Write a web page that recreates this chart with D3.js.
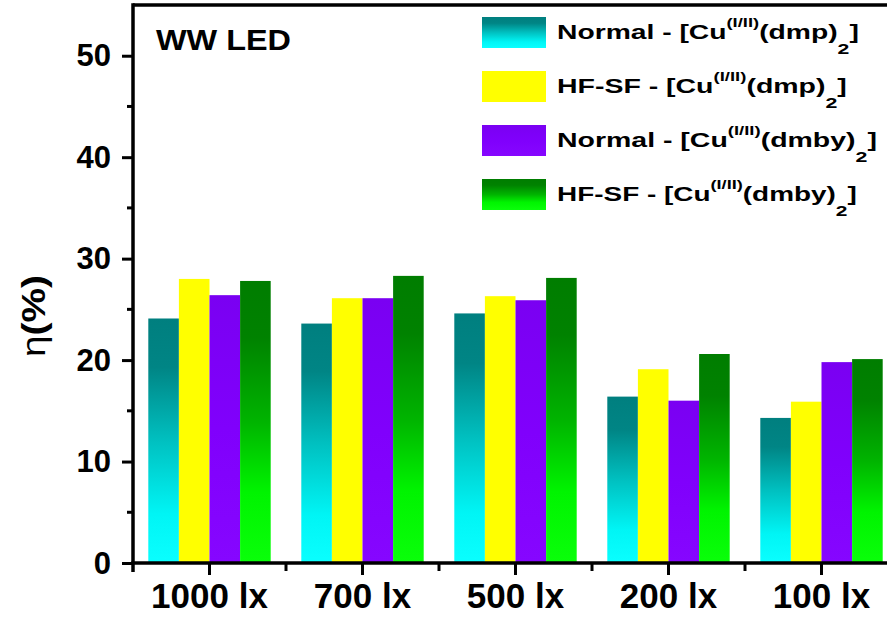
<!DOCTYPE html>
<html>
<head>
<meta charset="utf-8">
<script src="https://cdn.jsdelivr.net/npm/d3@7"></script>
<style>
  html, body { margin: 0; padding: 0; background: #fff; }
  svg { display: block; font-family: Arial, "Liberation Sans", sans-serif; }
</style>
</head>
<body>
<svg id="chart" width="887" height="617"></svg>
<script>
// Efficiency of the cells under a warm-white LED at several illuminances
const categories = ["1000 lx", "700 lx", "500 lx", "200 lx", "100 lx"];
const seriesKeys = ["normalDmp", "hfsfDmp", "normalDmby", "hfsfDmby"];
const normalDmp  = [24.1, 23.6, 24.6, 16.4, 14.3];
const hfsfDmp    = [28.0, 26.1, 26.3, 19.1, 15.9];
const normalDmby = [26.4, 26.1, 25.9, 16.0, 19.8];
const hfsfDmby   = [27.8, 28.3, 28.1, 20.6, 20.1];
const yTicks = [0, 10, 20, 30, 40, 50];
const yMinorTicks = [5, 15, 25, 35, 45];
const yMax = 55;

const seriesValues = { normalDmp, hfsfDmp, normalDmby, hfsfDmby };
const legendEntries = [
  { key: "normalDmp",  name: "Normal",  ligand: "dmp"  },
  { key: "hfsfDmp",    name: "HF-SF",   ligand: "dmp"  },
  { key: "normalDmby", name: "Normal",  ligand: "dmby" },
  { key: "hfsfDmby",   name: "HF-SF",   ligand: "dmby" }
];

const svg = d3.select("#chart");
const plotLeft = 133, plotBottom = 563, plotTop = 5, plotRight = 887;
const step = 153;

// vertical fills for each series
const defs = svg.append("defs");
const gradStops = {
  normalDmp:  [[0, "#007f7f"], [0.2, "#008585"], [0.5, "#00c0c0"], [0.8, "#00f5f5"], [1, "#0affff"]],
  hfsfDmp:    [[0, "#ffff00"], [1, "#ffff00"]],
  normalDmby: [[0, "#7a00f2"], [0.5, "#8000fc"], [1, "#8606ff"]],
  hfsfDmby:   [[0, "#007d00"], [0.2, "#008200"], [0.5, "#00b400"], [0.75, "#00f400"], [1, "#0aff0a"]]
};
seriesKeys.forEach(k => {
  const g = defs.append("linearGradient")
    .attr("id", "fill-" + k)
    .attr("x1", 0).attr("y1", 0).attr("x2", 0).attr("y2", 1);
  gradStops[k].forEach(([o, c]) => g.append("stop").attr("offset", o).attr("stop-color", c));
});

const x0 = d3.scaleBand().domain(categories)
  .range([plotLeft, plotLeft + step * categories.length]).padding(0);
const x1 = d3.scaleBand().domain(seriesKeys)
  .range([0.1 * x0.bandwidth(), 0.9 * x0.bandwidth()]).padding(0);
const y = d3.scaleLinear().domain([0, yMax]).range([plotBottom, plotTop]);

// bars
const groups = svg.append("g").selectAll("g")
  .data(categories)
  .join("g")
  .attr("transform", d => `translate(${x0(d)},0)`);
groups.selectAll("rect")
  .data((c, i) => seriesKeys.map(k => ({ key: k, value: seriesValues[k][i] })))
  .join("rect")
  .attr("x", d => x1(d.key))
  .attr("width", x1.bandwidth())
  .attr("y", d => y(d.value))
  .attr("height", d => y(0) - y(d.value))
  .attr("fill", d => `url(#fill-${d.key})`);

// frame lines
const axisColor = "#000";
svg.append("line").attr("x1", plotLeft).attr("x2", plotRight).attr("y1", plotTop).attr("y2", plotTop)
  .attr("stroke", axisColor).attr("stroke-width", 3.5);

// y axis
const yAxis = svg.append("g").attr("transform", `translate(${plotLeft},0)`)
  .call(d3.axisLeft(y).tickValues(yTicks).tickSize(11).tickPadding(11).tickFormat(d3.format("d")));
yAxis.select(".domain").remove();
yAxis.selectAll(".tick line").attr("stroke", axisColor).attr("stroke-width", 3);
yAxis.selectAll(".tick text")
  .attr("font-size", 31).attr("font-weight", "bold").attr("fill", "#000")
  .attr("dy", "0.33em");
yAxis.selectAll(".minor").data(yMinorTicks).join("line")
  .attr("class", "minor")
  .attr("x1", -6).attr("x2", 0)
  .attr("y1", d => y(d)).attr("y2", d => y(d))
  .attr("stroke", axisColor).attr("stroke-width", 3);
svg.append("line").attr("x1", plotLeft).attr("x2", plotLeft).attr("y1", plotTop - 1.75).attr("y2", plotBottom + 9)
  .attr("stroke", axisColor).attr("stroke-width", 3.5);

// x axis
const xAxis = svg.append("g").attr("transform", `translate(0,${plotBottom})`)
  .call(d3.axisBottom(x0).tickSize(12).tickPadding(10));
xAxis.select(".domain").remove();
xAxis.selectAll(".tick line").attr("stroke", axisColor).attr("stroke-width", 3);
xAxis.selectAll(".tick text")
  .attr("font-size", 35).attr("font-weight", "bold").attr("fill", "#000")
  .attr("y", 45).attr("dy", 0);
xAxis.selectAll(".minor").data(categories.slice(1)).join("line")
  .attr("class", "minor")
  .attr("x1", d => x0(d)).attr("x2", d => x0(d))
  .attr("y1", 0).attr("y2", 8)
  .attr("stroke", axisColor).attr("stroke-width", 3);
svg.append("line").attr("x1", plotLeft - 1.75).attr("x2", plotRight).attr("y1", plotBottom).attr("y2", plotBottom)
  .attr("stroke", axisColor).attr("stroke-width", 3.5);

// y axis title
const yTitle = svg.append("text")
  .attr("transform", `translate(45,316) rotate(-90)`)
  .attr("text-anchor", "middle")
  .attr("font-size", 34)
  .attr("fill", "#000")
  .attr("textLength", 82).attr("lengthAdjust", "spacingAndGlyphs");
yTitle.append("tspan").attr("font-weight", "normal").text("η");
yTitle.append("tspan").attr("font-weight", "bold").text("(%)");

// panel label
svg.append("text")
  .attr("x", 156).attr("y", 49.5)
  .attr("font-size", 29).attr("font-weight", "bold").attr("fill", "#000")
  .attr("textLength", 135).attr("lengthAdjust", "spacingAndGlyphs")
  .text("WW LED");

// legend: each label is stretched horizontally to its measured span
const legendWidths = [302, 290, 320, 300];
const legend = svg.append("g");
legendEntries.forEach((e, i) => {
  const yy = 17 + i * 54;
  legend.append("rect")
    .attr("x", 482).attr("y", yy).attr("width", 64).attr("height", 31)
    .attr("fill", `url(#fill-${e.key})`);
  const holder = legend.append("g");
  const t = holder.append("text")
    .attr("x", 0).attr("y", yy + 22.5)
    .attr("font-size", 20).attr("font-weight", "bold").attr("fill", "#000");
  t.append("tspan").text(`${e.name} - [Cu`);
  t.append("tspan").attr("font-size", 13).attr("dy", -12).text("(I/II)");
  t.append("tspan").attr("dy", 12).text(`(${e.ligand})`);
  t.append("tspan").attr("font-size", 15).attr("dy", 15).text("2");
  t.append("tspan").attr("dy", -15).text("]");
  const w = t.node().getBBox().width;
  holder.attr("transform", `translate(557,0) scale(${legendWidths[i] / w},1)`);
});
</script>
</body>
</html>
